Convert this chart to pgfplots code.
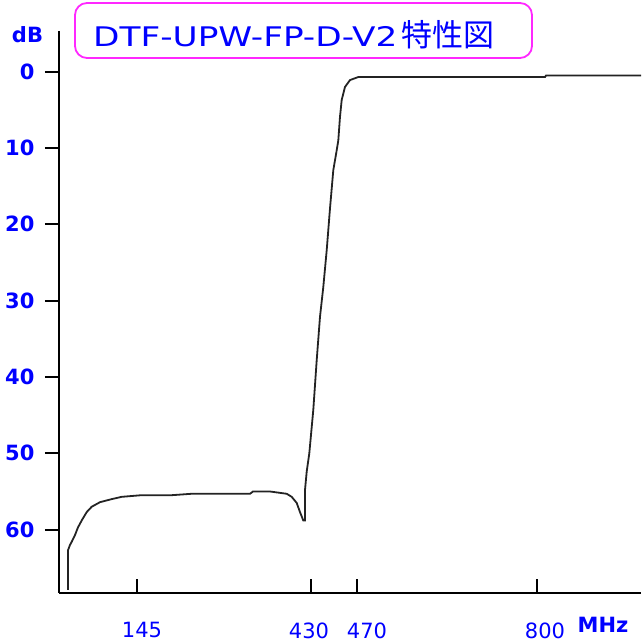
\documentclass[border=0pt]{standalone}
\usepackage{fontspec}
\setmainfont{DejaVu Sans}
\newfontfamily\cjk{Noto Sans CJK JP}
\usepackage{pgfplots}
\pgfplotsset{compat=1.18}
\usepackage{graphicx}
\definecolor{lblue}{RGB}{0,0,255}
\definecolor{lmag}{RGB}{255,40,255}
\definecolor{curve}{RGB}{35,35,35}
\begin{document}
\begin{tikzpicture}[x=1pt,y=1pt]
\path[use as bounding box] (0,0) rectangle (641,644);
\begin{axis}[
  at={(59pt,51pt)}, anchor=south west,
  scale only axis, width=582pt, height=562pt,
  xmin=59, xmax=641, ymin=-5.33, ymax=68.3, y dir=reverse,
  axis x line*=bottom, axis y line*=left,
  axis line style={black, line width=1.8pt, -},
  ytick align=outside, xtick align=inside, major tick length=14pt,
  tick style={black, line width=1.8pt},
  /pgf/number format/assume math mode=true,
  ytick={0,10,20,30,40,50,60},
  yticklabel style={font=\bfseries\fontsize{21}{21}\selectfont, text=lblue, xshift=-7pt},
  xtick={137,311,357,537}, xticklabels={},
  extra x ticks={142,309,367,545},
  extra x tick labels={145,430,470,800},
  extra x tick style={major tick length=0pt, tick style={draw=none},
    xticklabel style={font=\fontsize{21}{21}\selectfont, text=lblue, yshift=-26pt}},
  clip=false,
]
\addplot[curve, line width=1.8pt] coordinates {
(68,67.9) (68,62.7) (70,62.0) (71.7,61.6) (75,60.7) (78,59.7) (81.7,58.8)
(86.7,57.7) (91.7,57.0) (100,56.4) (111.7,56.0) (121.7,55.7) (140,55.5)
(170,55.5) (191.7,55.3) (250,55.3) (253,55.0) (270,55.0) (286.7,55.3)
(291.7,55.7) (296.7,56.5) (300,57.7) (303.3,58.8) (305,58.8) (305,54.8)
(306.7,52.4) (309.3,50.0) (313.3,44.3) (316.7,37.8) (320,32.1) (323.3,28.2)
(326.7,23.4) (330,17.9) (333.3,12.9) (336.7,10.3) (338.3,9.0) (340,5.9)
(341.7,3.7) (345,2.0) (350,1.1) (358.3,0.7) (545,0.7) (546,0.5) (641,0.5)
};
\end{axis}
\node[draw=lmag, rounded corners=12pt, line width=1.8pt, minimum width=457pt, minimum height=55pt, inner sep=0pt] at (303.5,613.5) {};
\node[anchor=base west, inner sep=0pt, text=lblue, font=\fontsize{27}{27}\selectfont] at (93,597) {\scalebox{1.27}[1]{DTF-UPW-FP-D-V2}\,{\cjk\fontsize{31}{31}\selectfont 特性図}};
\node[anchor=base, inner sep=0pt, text=lblue, font=\bfseries\fontsize{21}{21}\selectfont] at (27.5,601) {dB};
\node[anchor=base, inner sep=0pt, text=lblue, font=\bfseries\fontsize{21}{21}\selectfont] at (603,12) {MHz};
\end{tikzpicture}
\end{document}
